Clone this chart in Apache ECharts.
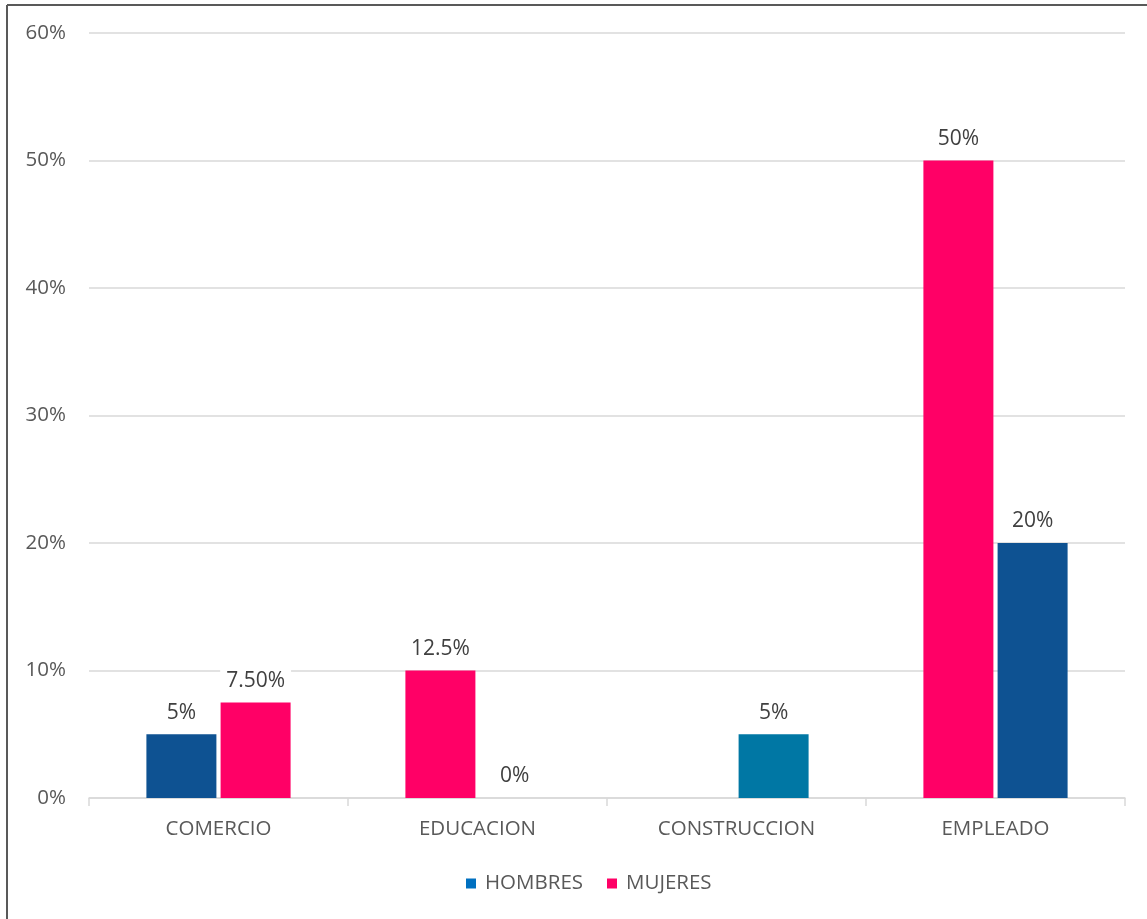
<!DOCTYPE html>
<html>
<head>
<meta charset="utf-8">
<script src="https://cdn.jsdelivr.net/npm/echarts@6/dist/echarts.min.js"></script>
<style>
  html, body { margin: 0; padding: 0; background: #fff; }
  #chart { width: 1147px; height: 919px; }
</style>
</head>
<body>
<div id="chart"></div>
<script>
// categories and the two bar slots of each category (as drawn in the source sheet)
const categories = ['COMERCIO', 'EDUCACION', 'CONSTRUCCION', 'EMPLEADO']
const yTicks = [0, 10, 20, 30, 40, 50, 60]

// first bar of each group
const slot1Values = [5, 10, null, 50]
const slot1Labels = ['5%', '12.5%', '', '50%']
const slot1Colors = ['#0E5292', '#FF0066', '#0E5292', '#FF0066']

// second bar of each group
const slot2Values = [7.5, 0, 5, 20]
const slot2Labels = ['7.50%', '0%', '5%', '20%']
const slot2Colors = ['#FF0066', '#FF0066', '#0077A4', '#0E5292']

const textColor = '#595959'
const font = 'Open Sans'

const chart = echarts.init(document.getElementById('chart'))

function buildData(values, colors) {
  return values.map((v, i) => ({
    value: v,
    itemStyle: { color: colors[i] }
  }))
}

function labelOf(labels) {
  return {
    show: true,
    position: 'top',
    distance: 9,
    color: '#404040',
    fontFamily: font,
    fontSize: 21,
    backgroundColor: '#fff',
    padding: [2, 6],
    formatter: p => labels[p.dataIndex]
  }
}

chart.setOption({
  animation: false,
  textStyle: { fontFamily: font },
  graphic: [
    { type: 'line', shape: { x1: 7, y1: 5, x2: 1147, y2: 5 }, style: { stroke: '#595959', lineWidth: 2 } },
    { type: 'line', shape: { x1: 7, y1: 5, x2: 7, y2: 919 }, style: { stroke: '#595959', lineWidth: 2 } }
  ],
  grid: {
    left: 89,
    right: 22,
    top: 33,
    bottom: 121
  },
  legend: {
    bottom: 20,
    left: 461,
    icon: 'rect',
    itemWidth: 10,
    itemHeight: 10,
    itemGap: 24,
    textStyle: { color: textColor, fontSize: 20.5, fontFamily: font, padding: [0, 0, 0, 4] },
    data: [
      { name: 'HOMBRES', itemStyle: { color: '#0070C0' } },
      { name: 'MUJERES', itemStyle: { color: '#FF0066' } }
    ]
  },
  xAxis: {
    type: 'category',
    data: categories,
    axisLine: { lineStyle: { color: '#d9d9d9', width: 1.5 } },
    axisTick: { show: true, length: 8, lineStyle: { color: '#d9d9d9', width: 1.5 } },
    axisLabel: { color: textColor, fontSize: 20.5, margin: 21, fontFamily: font }
  },
  yAxis: {
    type: 'value',
    min: 0,
    max: 60,
    interval: 10,
    axisLine: { show: false },
    axisTick: { show: false },
    axisLabel: {
      color: textColor,
      fontSize: 20.5,
      margin: 23,
      fontFamily: font,
      formatter: v => (yTicks.includes(v) ? v + '%' : '')
    },
    splitLine: { lineStyle: { color: '#d9d9d9', width: 1.5 } }
  },
  series: [
    {
      name: 'HOMBRES',
      type: 'bar',
      barWidth: 70,
      barGap: '6%',
      itemStyle: { color: '#0070C0' },
      label: labelOf(slot1Labels),
      data: buildData(slot1Values, slot1Colors)
    },
    {
      name: 'MUJERES',
      type: 'bar',
      barWidth: 70,
      barGap: '6%',
      itemStyle: { color: '#FF0066' },
      label: labelOf(slot2Labels),
      data: buildData(slot2Values, slot2Colors)
    }
  ]
})
</script>
</body>
</html>
